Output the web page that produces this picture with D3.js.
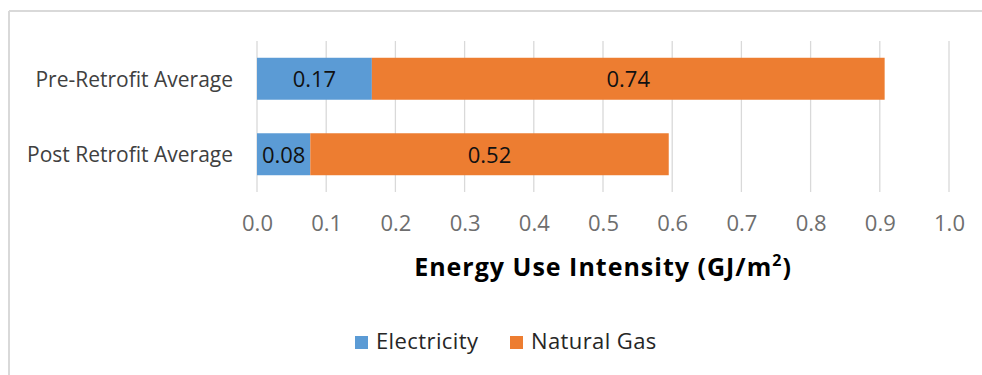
<!DOCTYPE html>
<html>
<head>
<meta charset="utf-8">
<script src="https://cdn.jsdelivr.net/npm/d3@7"></script>
<style>
  html, body { margin: 0; padding: 0; background: #fff; }
  svg { display: block; font-family: "Open Sans", Lato, sans-serif; }
</style>
</head>
<body>
<svg id="chart" width="982" height="375"></svg>
<script>
// Energy use intensity (GJ/m²) by period, split by fuel
const categories = ["Pre-Retrofit Average", "Post Retrofit Average"];
const seriesNames = ["Electricity", "Natural Gas"];
const electricity = [0.166, 0.077];
const naturalGas = [0.741, 0.518];
const tickValues = [0.0, 0.1, 0.2, 0.3, 0.4, 0.5, 0.6, 0.7, 0.8, 0.9, 1.0];
const colors = ["#5B9BD5", "#ED7D31"];

const FONT = "'Open Sans', Lato, sans-serif";
const svg = d3.select("#chart");
const W = 982, H = 375;

// chart frame (top and left edges)
svg.append("line").attr("x1", 9).attr("x2", W).attr("y1", 11).attr("y2", 11)
  .attr("stroke", "#D9D9D9").attr("stroke-width", 2);
svg.append("line").attr("x1", 9).attr("x2", 9).attr("y1", 11).attr("y2", H)
  .attr("stroke", "#D9D9D9").attr("stroke-width", 2);

const plot = { left: 257, right: 949, top: 41, bottom: 192 };

const x = d3.scaleLinear().domain([0, 1]).range([plot.left, plot.right]);
const y = d3.scaleBand().domain(categories).range([plot.top, plot.bottom])
  .paddingInner(0.444).paddingOuter(0.222);

// vertical gridlines
svg.append("g").selectAll("line").data(tickValues).join("line")
  .attr("x1", d => x(d)).attr("x2", d => x(d))
  .attr("y1", plot.top).attr("y2", plot.bottom)
  .attr("stroke", "#D9D9D9").attr("stroke-width", 1.3);

// x axis tick labels
const xAxis = d3.axisBottom(x).tickValues(tickValues).tickFormat(d3.format(".1f")).tickSize(0).tickPadding(0);
const gx = svg.append("g").call(xAxis);
gx.select(".domain").remove();
gx.selectAll("text").attr("fill", "#6E6E6E").attr("font-size", 22)
  .attr("font-family", FONT).attr("y", 231).attr("dy", 0);

// category labels
const yAxis = d3.axisLeft(y).tickSize(0).tickPadding(0);
const gy = svg.append("g").attr("transform", `translate(${plot.left - 24}, 0)`).call(yAxis);
gy.select(".domain").remove();
gy.selectAll("text").attr("fill", "#404040").attr("font-size", 21)
  .attr("font-family", FONT).attr("dy", "0.37em");

// stacked bars
const rows = categories.map((c, i) => ({ category: c, Electricity: electricity[i], "Natural Gas": naturalGas[i] }));
const stacked = d3.stack().keys(seriesNames)(rows);
const fmt = d3.format(".2f");

const layers = svg.append("g").selectAll("g").data(stacked).join("g")
  .attr("fill", (d, i) => colors[i]);

layers.selectAll("rect").data(d => d).join("rect")
  .attr("x", d => x(d[0]))
  .attr("y", d => y(d.data.category))
  .attr("width", d => x(d[1]) - x(d[0]))
  .attr("height", y.bandwidth());

layers.selectAll("text").data(d => d).join("text")
  .attr("x", d => (x(d[0]) + x(d[1])) / 2)
  .attr("y", d => y(d.data.category) + y.bandwidth() / 2)
  .attr("dy", "0.38em")
  .attr("text-anchor", "middle")
  .attr("fill", "#111")
  .attr("font-size", 22)
  .text(d => fmt(d[1] - d[0]));

// axis title
const title = svg.append("text")
  .attr("x", (plot.left + plot.right) / 2)
  .attr("y", 276)
  .attr("text-anchor", "middle")
  .attr("font-size", 25)
  .attr("letter-spacing", 1)
  .attr("font-weight", "bold")
  .attr("fill", "#000");
title.append("tspan").text("Energy Use Intensity (GJ/m");
title.append("tspan").attr("font-size", 16).attr("dy", -10).text("2");
title.append("tspan").attr("dy", 10).text(")");

// legend
const legend = svg.append("g").attr("transform", "translate(355, 336)");
const legendX = [0, 155];
seriesNames.forEach((name, i) => {
  const g = legend.append("g").attr("transform", `translate(${legendX[i]}, 0)`);
  g.append("rect").attr("width", 13).attr("height", 13).attr("fill", colors[i]);
  g.append("text").attr("x", 21).attr("y", 13)
    .attr("font-size", 22).attr("letter-spacing", 0.4).attr("fill", "#262626").text(name);
});
</script>
</body>
</html>
